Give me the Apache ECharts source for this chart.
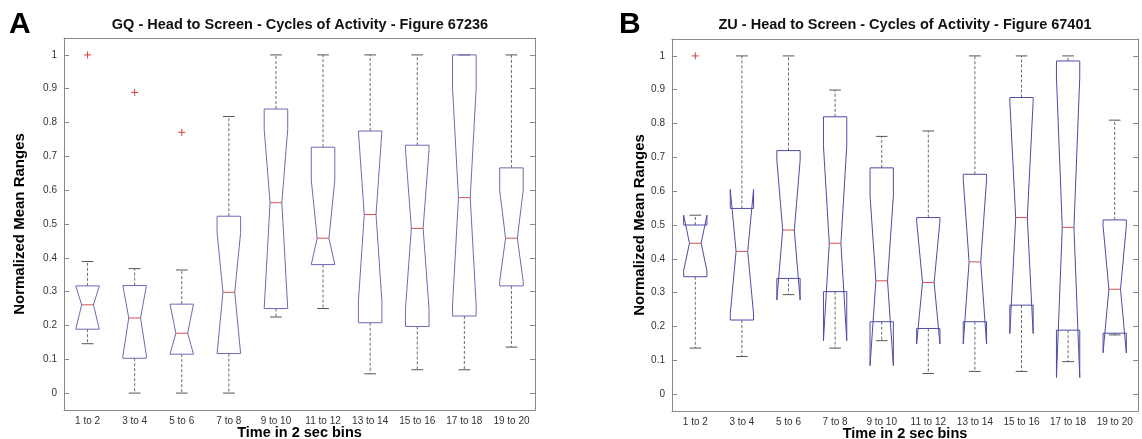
<!DOCTYPE html>
<html>
<head>
<meta charset="utf-8">
<script src="https://cdn.jsdelivr.net/npm/echarts@6/dist/echarts.min.js"></script>
<style>html,body{margin:0;padding:0;background:#fff;}#c{width:1142px;height:439px;}</style>
</head>
<body>
<div id="c"></div>
<script>
// ---------- data ----------
const categories = ['1 to 2','3 to 4','5 to 6','7 to 8','9 to 10','11 to 12','13 to 14','15 to 16','17 to 18','19 to 20'];
const yTicks = [0, 0.1, 0.2, 0.3, 0.4, 0.5, 0.6, 0.7, 0.8, 0.9, 1];

// Panel A (GQ)
const gqLow     = [0.146, 0.000, 0.000, 0.000, 0.225, 0.250, 0.057, 0.069, 0.069, 0.136];
const gqQ1      = [0.189, 0.103, 0.115, 0.117, 0.250, 0.380, 0.208, 0.197, 0.228, 0.317];
const gqMedian  = [0.261, 0.222, 0.177, 0.298, 0.563, 0.458, 0.528, 0.487, 0.578, 0.458];
const gqQ3      = [0.317, 0.318, 0.263, 0.523, 0.840, 0.727, 0.775, 0.733, 1.000, 0.666];
const gqHigh    = [0.389, 0.368, 0.364, 0.818, 1.000, 1.000, 1.000, 1.000, 1.000, 1.000];
const gqNotchLo = [0.189, 0.110, 0.115, 0.117, 0.250, 0.380, 0.270, 0.250, 0.260, 0.330];
const gqNotchHi = [0.317, 0.318, 0.263, 0.475, 0.780, 0.630, 0.775, 0.720, 0.900, 0.600];
const gqOutlierCat = [0, 1, 2];
const gqOutlierVal = [1.000, 0.889, 0.771];

// Panel B (ZU)
const zuLow     = [0.136, 0.111, 0.294, 0.136, 0.158, 0.061, 0.067, 0.067, 0.096, 0.175];
const zuQ1      = [0.347, 0.219, 0.342, 0.303, 0.214, 0.194, 0.214, 0.263, 0.189, 0.180];
const zuMedian  = [0.446, 0.422, 0.485, 0.446, 0.335, 0.330, 0.391, 0.522, 0.493, 0.310];
const zuQ3      = [0.500, 0.549, 0.720, 0.820, 0.669, 0.522, 0.650, 0.877, 0.985, 0.515];
const zuHigh    = [0.529, 1.000, 1.000, 0.899, 0.762, 0.778, 1.000, 1.000, 1.000, 0.810];
const zuNotchLo = [0.365, 0.237, 0.278, 0.158, 0.084, 0.148, 0.148, 0.179, 0.049, 0.122];
const zuNotchHi = [0.529, 0.605, 0.692, 0.734, 0.586, 0.512, 0.634, 0.865, 0.937, 0.498];
const zuOutlierCat = [0];
const zuOutlierVal = [1.000];

const titleA = 'GQ - Head to Screen - Cycles of Activity - Figure 67236';
const titleB = 'ZU - Head to Screen - Cycles of Activity - Figure 67401';
const xName = 'Time in 2 sec bins';
const yName = 'Normalized Mean Ranges';

// ---------- build ----------
const FONT = '"Liberation Sans", Arial, Helvetica, sans-serif';
const FRAME = '#8a8a8a';

function boxData(lo, q1, med, q3, hi, nlo, nhi) {
  return categories.map((c, i) => [i, lo[i], q1[i], med[i], q3[i], hi[i], nlo[i], nhi[i]]);
}
function outData(cats, vals) { return cats.map((c, i) => [c, vals[i]]); }

function makeBoxRender(boxColor) {
  return function (params, api) {
    const idx = api.value(0);
    const bw = api.size([1, 0])[0];
    const cx = api.coord([idx, 0])[0];
    const P = v => api.coord([idx, v])[1];
    const lo = api.value(1), q1 = api.value(2), med = api.value(3), q3 = api.value(4), hi = api.value(5);
    const nlo = api.value(6), nhi = api.value(7);
    const hw = bw * 0.25, nw = bw * 0.125, cw = bw * 0.125;
    const pts = [
      [cx - hw, P(q1)], [cx - hw, P(nlo)], [cx - nw, P(med)], [cx - hw, P(nhi)], [cx - hw, P(q3)],
      [cx + hw, P(q3)], [cx + hw, P(nhi)], [cx + nw, P(med)], [cx + hw, P(nlo)], [cx + hw, P(q1)]
    ];
    const whisk = { stroke: '#6a6a6a', lineWidth: 1, lineDash: [3, 2] };
    const cap = { stroke: '#555', lineWidth: 1 };
    return {
      type: 'group',
      children: [
        { type: 'line', shape: { x1: cx, y1: P(q3), x2: cx, y2: P(hi) }, style: whisk },
        { type: 'line', shape: { x1: cx, y1: P(q1), x2: cx, y2: P(lo) }, style: whisk },
        { type: 'line', shape: { x1: cx - cw, y1: P(hi), x2: cx + cw, y2: P(hi) }, style: cap },
        { type: 'line', shape: { x1: cx - cw, y1: P(lo), x2: cx + cw, y2: P(lo) }, style: cap },
        { type: 'polygon', shape: { points: pts }, style: { fill: 'none', stroke: boxColor, lineWidth: 1 } },
        { type: 'line', shape: { x1: cx - nw, y1: P(med), x2: cx + nw, y2: P(med) }, style: { stroke: '#d85050', lineWidth: 1 } }
      ]
    };
  };
}
function renderOutlier(params, api) {
  const p = api.coord([api.value(0), api.value(1)]);
  const s = 3.5;
  const st = { stroke: '#d04040', lineWidth: 1 };
  return { type: 'group', children: [
    { type: 'line', shape: { x1: p[0] - s, y1: p[1], x2: p[0] + s, y2: p[1] }, style: st },
    { type: 'line', shape: { x1: p[0], y1: p[1] - s, x2: p[0], y2: p[1] + s }, style: st }
  ]};
}

const grids = [
  { left: 64, top: 38, width: 471, height: 372, containLabel: false, outerBoundsMode: 'none' },
  { left: 672, top: 39, width: 466, height: 372, containLabel: false, outerBoundsMode: 'none' }
];

function xAxes(gi) {
  return [
    { type: 'category', gridIndex: gi, data: categories, position: 'bottom', boundaryGap: true,
      axisLine: { onZero: false, lineStyle: { color: FRAME } },
      axisTick: { inside: true, alignWithLabel: true, length: 5, lineStyle: { color: FRAME } },
      axisLabel: { color: '#333', fontSize: 10, fontFamily: FONT, margin: 6, interval: 0 },
      name: xName, nameLocation: 'middle', nameGap: 15, nameMoveOverlap: false,
      nameTextStyle: { color: '#000', fontSize: 14.5, fontWeight: 'bold', fontFamily: FONT,
                       verticalAlign: 'top', lineHeight: 15 },
      splitLine: { show: false } },
    { type: 'category', gridIndex: gi, data: categories, position: 'top', boundaryGap: true,
      axisLine: { onZero: false, lineStyle: { color: FRAME } },
      axisTick: { inside: true, alignWithLabel: true, length: 5, lineStyle: { color: FRAME } },
      axisLabel: { show: false }, splitLine: { show: false } }
  ];
}
function yAxes(gi, gap) {
  return [
    { type: 'value', gridIndex: gi, min: -0.05, max: 1.05, position: 'left',
      axisLine: { show: true, onZero: false, lineStyle: { color: FRAME } },
      axisTick: { show: true, inside: true, length: 5, customValues: yTicks, lineStyle: { color: FRAME } },
      axisLabel: { color: '#333', fontSize: 10, fontFamily: FONT, margin: 7, customValues: yTicks,
                   formatter: v => String(Math.round(v * 10) / 10) },
      splitLine: { show: false },
      name: yName, nameLocation: 'middle', nameGap: gap, nameRotate: 90, nameMoveOverlap: false,
      nameTextStyle: { color: '#000', fontSize: 15, fontWeight: 'bold', fontFamily: FONT } },
    { type: 'value', gridIndex: gi, min: -0.05, max: 1.05, position: 'right',
      axisLine: { show: true, onZero: false, lineStyle: { color: FRAME } },
      axisTick: { show: true, inside: true, length: 5, customValues: yTicks, lineStyle: { color: FRAME } },
      axisLabel: { show: false }, splitLine: { show: false } }
  ];
}

const option = {
  backgroundColor: '#fff',
  animation: false,
  grid: grids,
  xAxis: [...xAxes(0), ...xAxes(1)],
  yAxis: [...yAxes(0, 37), ...yAxes(1, 25)],
  graphic: [
    { type: 'text', left: 9, top: 10, style: { text: 'A', font: '900 30px ' + FONT, fill: '#000' } },
    { type: 'text', left: 619, top: 10, style: { text: 'B', font: '900 30px ' + FONT, fill: '#000' } },
    { type: 'text', x: 300, y: 25, style: { text: titleA, font: 'bold 14.5px ' + FONT, fill: '#111', align: 'center', verticalAlign: 'middle' } },
    { type: 'text', x: 905, y: 25, style: { text: titleB, font: 'bold 14.5px ' + FONT, fill: '#111', align: 'center', verticalAlign: 'middle' } }
  ],
  series: [
    { type: 'custom', xAxisIndex: 0, yAxisIndex: 0, renderItem: makeBoxRender('#6b6bb5'),
      encode: { x: 0, y: [1, 2, 3, 4, 5] },
      data: boxData(gqLow, gqQ1, gqMedian, gqQ3, gqHigh, gqNotchLo, gqNotchHi) },
    { type: 'custom', xAxisIndex: 0, yAxisIndex: 0, renderItem: renderOutlier,
      encode: { x: 0, y: 1 }, data: outData(gqOutlierCat, gqOutlierVal) },
    { type: 'custom', xAxisIndex: 2, yAxisIndex: 2, renderItem: makeBoxRender('#4c4ca6'),
      encode: { x: 0, y: [1, 2, 3, 4, 5] },
      data: boxData(zuLow, zuQ1, zuMedian, zuQ3, zuHigh, zuNotchLo, zuNotchHi) },
    { type: 'custom', xAxisIndex: 2, yAxisIndex: 2, renderItem: renderOutlier,
      encode: { x: 0, y: 1 }, data: outData(zuOutlierCat, zuOutlierVal) }
  ]
};

const chart = echarts.init(document.getElementById('c'), null, { renderer: 'canvas' });
chart.setOption(option);
</script>
</body>
</html>
